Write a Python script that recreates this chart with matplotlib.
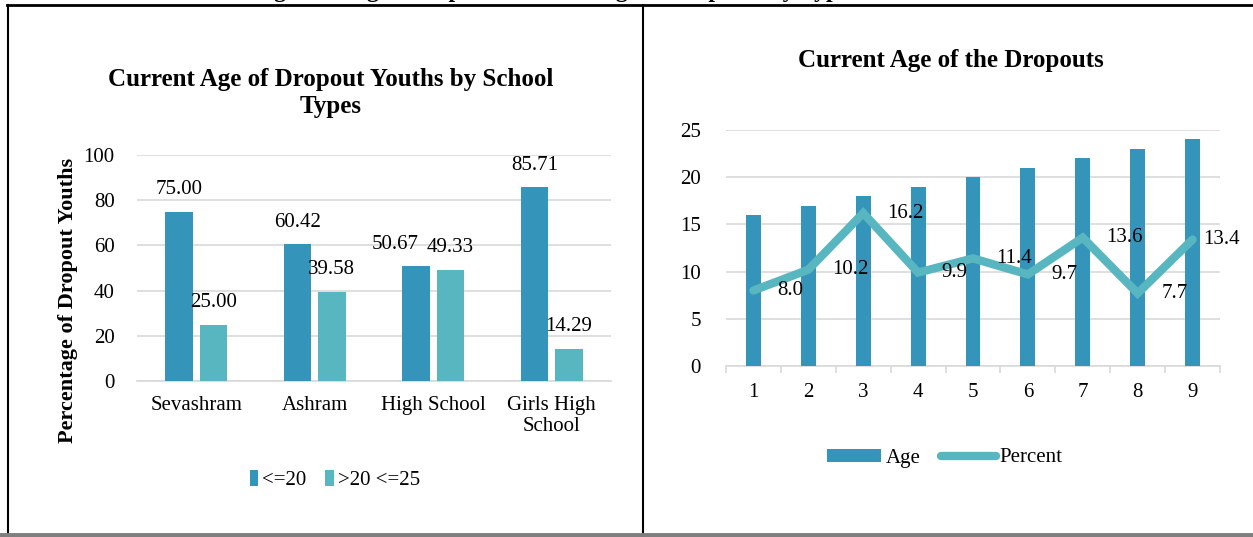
import matplotlib.pyplot as plt
import numpy as np
from matplotlib.lines import Line2D

plt.rcParams['font.family'] = ['Liberation Serif', 'DejaVu Serif']

# ---- data: left chart ----
schools = ["Sevashram", "Ashram", "High School", "Girls High\nSchool"]
le20 = [75.00, 60.42, 50.67, 85.71]
gt20 = [25.00, 39.58, 49.33, 14.29]

# ---- data: right chart ----
ages_idx = ["1", "2", "3", "4", "5", "6", "7", "8", "9"]
age = [16, 17, 18, 19, 20, 21, 22, 23, 24]
percent = [8.0, 10.2, 16.2, 9.9, 11.4, 9.7, 13.6, 7.7, 13.4]

dark = "#3494BA"
light = "#58B6C0"
grid_c = "#D9D9D9"
fs = 15

fig = plt.figure(figsize=(12.53, 5.37), dpi=100)

# clipped caption at the very top (only descenders show)
fig.text(0.44, 1 + 3 / 537, "Figure 4: Age Group and Current Age of Dropouts by Type",
         ha="center", va="baseline", fontsize=17, fontweight="bold")

# frame lines
fig.add_artist(Line2D([7 / 1253, 1], [1 - 5 / 537, 1 - 5 / 537], color="black", lw=2))
fig.add_artist(Line2D([8 / 1253, 8 / 1253], [1 - 5 / 537, 4 / 537], color="black", lw=1.5))
fig.add_artist(Line2D([643 / 1253, 643 / 1253], [1 - 5 / 537, 4 / 537], color="black", lw=1.5))
fig.add_artist(Line2D([0, 1], [2 / 537, 2 / 537], color="#7F7F7F", lw=3.5))

# ---- left chart ----
ax1 = fig.add_axes([137 / 1253, 1 - 381 / 537, 474 / 1253, 226 / 537])
x = np.arange(len(schools))
w = 0.23
b1 = ax1.bar(x - 0.145, le20, w, color=dark, label="<=20", zorder=3)
b2 = ax1.bar(x + 0.145, gt20, w, color=light, label=">20 <=25", zorder=3)
lab1 = ax1.bar_label(b1, fmt="%.2f", padding=9, fontsize=fs)
ax1.bar_label(b2, fmt="%.2f", padding=9, fontsize=fs)
# the High School label sits a bit left so it does not touch its neighbour
lab1[2].xyann = (-15, 9)
ax1.set_ylim(0, 100)
ax1.set_xlim(-0.5, 3.5)
ax1.set_yticks(range(0, 101, 20))
ax1.set_xticks(x)
ax1.set_xticklabels(schools, fontsize=fs, linespacing=1.1)
ax1.tick_params(axis="y", labelsize=fs, length=0, pad=16)
ax1.tick_params(axis="x", length=0, pad=11)
ax1.grid(axis="y", color=grid_c, lw=1.2, zorder=0)
for s in ["top", "right", "left"]:
    ax1.spines[s].set_visible(False)
ax1.spines["bottom"].set_color(grid_c)
ax1.spines["bottom"].set_linewidth(1.2)

fig.text(68 / 1253, 1 - 300 / 537, "Percentage of Dropout Youths", rotation=90,
         ha="center", va="center", fontsize=16, fontweight="bold")
fig.text(331 / 1253, 1 - 93 / 537, "Current Age of Dropout Youths by School\nTypes",
         ha="center", va="center", fontsize=18, fontweight="bold", linespacing=1.25)
fig.legend(handles=[b1, b2], loc="center", bbox_to_anchor=(335 / 1253, 1 - 480 / 537),
           ncol=2, frameon=False, fontsize=fs, handlelength=0.4, handleheight=0.8,
           handletextpad=0.2, columnspacing=0.9)

# ---- right chart ----
ax2 = fig.add_axes([726 / 1253, 1 - 366 / 537, 494 / 1253, 236 / 537])
xi = np.arange(len(ages_idx))
bars = ax2.bar(xi, age, 0.27, color=dark, label="Age", zorder=3)
line, = ax2.plot(xi, percent, color=light, lw=6, solid_capstyle="round",
                 solid_joinstyle="miter", label="Percent", zorder=4)
for i, (xx, p) in enumerate(zip(xi, percent)):
    dx = 8 if i == len(xi) - 1 else 17
    ax2.annotate(f"{p:.1f}", (xx, p), xytext=(dx, 0), textcoords="offset points",
                 ha="left", va="center", fontsize=fs, zorder=5)
ax2.set_ylim(0, 25)
ax2.set_xlim(-0.5, 8.5)
ax2.set_yticks(range(0, 26, 5))
ax2.set_xticks(xi)
ax2.set_xticklabels(ages_idx)
ax2.set_xticks(np.arange(-0.5, 9, 1), minor=True)
ax2.tick_params(axis="y", labelsize=fs, length=0, pad=18)
ax2.tick_params(axis="x", which="major", labelsize=fs, length=0, pad=12)
ax2.tick_params(axis="x", which="minor", length=5, color=grid_c, width=1.2)
ax2.grid(axis="y", color=grid_c, lw=1.2, zorder=0)
for s in ["top", "right", "left"]:
    ax2.spines[s].set_visible(False)
ax2.spines["bottom"].set_color(grid_c)
ax2.spines["bottom"].set_linewidth(1.2)

fig.text(951 / 1253, 1 - 60 / 537, "Current Age of the Dropouts",
         ha="center", va="center", fontsize=18, fontweight="bold")
fig.legend(handles=[bars, line], loc="center", bbox_to_anchor=(945 / 1253, 1 - 458 / 537),
           ncol=2, frameon=False, fontsize=fs, handlelength=2.6, handleheight=0.6,
           handletextpad=0.2, columnspacing=1.0)

fig.savefig("out.png", dpi=100)
